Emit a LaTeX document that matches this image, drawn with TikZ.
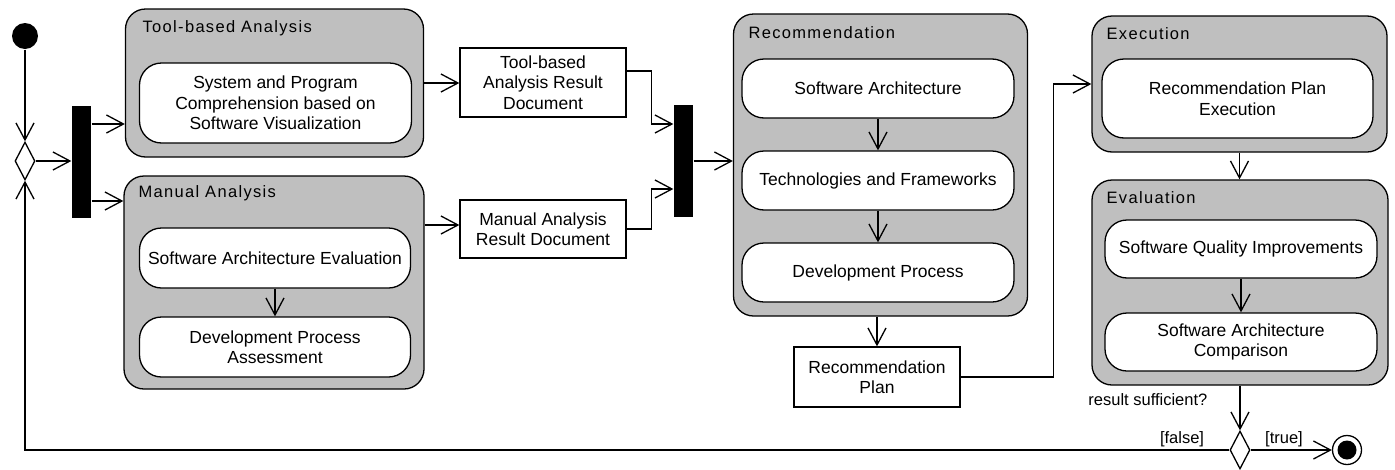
\documentclass[tikz,border=0pt]{standalone}
\usepackage{fontspec}
\setmainfont{Liberation Sans}
\usetikzlibrary{arrows.meta,positioning,shapes.geometric}

\begin{document}
\begin{tikzpicture}[x=1pt,y=-1pt,line width=1.3pt,>={Straight Barb[length=17pt,width=18pt]},
  font=\fontsize{17.5}{20.5}\selectfont,node distance=92pt,on grid,
  group/.style={draw,rounded corners=20pt,fill=black!25,inner sep=0pt},
  grouptitle/.style={anchor=west,inner sep=0pt,font=\fontsize{16.5}{19}\selectfont\addfontfeature{LetterSpace=8}},
  act/.style={draw,rounded corners=22pt,fill=white,align=center,minimum width=272pt,minimum height=59pt,inner sep=0pt},
  doc/.style={draw,fill=white,align=center,minimum width=166pt,inner sep=0pt},
  bar/.style={fill=black,minimum width=19pt,minimum height=112pt,inner sep=0pt},
  choice/.style={draw,fill=white,diamond,minimum width=20pt,minimum height=38pt,inner sep=0pt},
  init/.style={circle,fill=black,minimum size=26pt,inner sep=0pt},
  final/.style={circle,draw,fill=white,minimum size=29pt,inner sep=0pt,
    path picture={\fill[black] (path picture bounding box.center) circle (9.5pt);}},
  guard/.style={inner sep=0pt,font=\fontsize{16.5}{20}\selectfont}]
   \useasboundingbox (0,0) rectangle (1395,469);
   \node[init] (start) at (25,36) {};
   \node[choice] (merge) at (25,161) {};
   \node[bar] (fork) at (81.5,161.5) {};
   \node[group,minimum width=298pt,minimum height=148pt] (tool) at (274.5,83) {};
   \node[grouptitle] (toolt) at (142,28) {Tool-based Analysis};
   \node[act,minimum height=80pt] (comp) at (275.5,103) {System and Program\\Comprehension based on\\Software Visualization};
   \node[group,minimum width=300pt,minimum height=213pt] (manual) at (274,282.5) {};
   \node[grouptitle] (manualt) at (138,193) {Manual Analysis};
   \node[act,minimum width=271pt,minimum height=60pt] (sae) at (275,258) {Software Architecture Evaluation};
   \node[act,minimum width=271pt,minimum height=60pt] (dpa) [below=89pt of sae] {Development Process\\Assessment};
   \node[doc,minimum height=69pt] (tres) at (543,82.5) {Tool-based\\Analysis Result\\Document};
   \node[doc,minimum height=58pt] (mres) at (543,229) {Manual Analysis\\Result Document};
   \node[bar] (join) at (683.5,161) {};
   \node[group,minimum width=294pt,minimum height=302pt] (rec) at (880.5,165) {};
   \node[grouptitle] (rect) at (748,33) {Recommendation};
   \node[act] (arch) at (878,88.5) {Software Architecture};
   \node[act] (tech) [below=of arch] {Technologies and Frameworks};
   \node[act] (proc) [below=of tech] {Development Process};
   \node[doc,minimum height=60pt] (plan) at (877,377) {Recommendation\\Plan};
   \node[group,minimum width=295pt,minimum height=136pt] (exec) at (1239.5,84) {};
   \node[grouptitle] (exect) at (1106,34) {Execution};
   \node[act,minimum width=271pt,minimum height=79pt] (run) at (1237.5,98.5) {Recommendation Plan\\Execution};
   \node[group,minimum width=296pt,minimum height=205pt] (eval) at (1240,282.5) {};
   \node[grouptitle] (evalt) at (1106,198) {Evaluation};
   \node[act,minimum height=58pt] (qual) at (1241,249) {Software Quality Improvements};
   \node[act,minimum height=58pt] (cmp) [below=93pt of qual] {Software Architecture\\Comparison};
   \node[choice] (check) at (1240,450) {};
   \node[final] (stop) at (1347,450) {};
   \node[guard,anchor=east] (ask) at (1208,400) {result sufficient?};
   \node[guard] (no) at (1182,439) {[false]};
   \node[guard] (yes) at (1284,439) {[true]};
   \coordinate (f1) at ([yshift=37.5pt]fork.east);
   \coordinate (f2) at ([yshift=-39.5pt]fork.east);
   \coordinate (m1) at ([yshift=57.5pt]manual.east);
   \coordinate (t1) at ([yshift=11.5pt]tres.east);
   \coordinate (j1) at ([yshift=37pt]join.west);
   \coordinate (j2) at ([yshift=-28pt]join.west);
    \path[->]
    (arch) edge (tech)
    (tech) edge (proc)
    (sae) edge (dpa)
    (qual) edge (cmp);
   \draw[->] (start) -- (merge.north);
   \draw[->] (merge.east) -- (merge.east -| fork.west);
   \draw[->] (f1) -- (f1 -| tool.west);
   \draw[->] (f2) -- (f2 -| manual.west);
   \draw[->] (tool.east) -- (tool.east -| tres.west);
   \draw[->] (m1) -- (m1 -| mres.west);
   \draw[->] (t1) -- ++(25pt,0) |- (j1);
   \draw[->] (mres.east) -- ++(25pt,0) |- (j2);
   \draw[->] (join.east) -- (join.east -| rec.west);
   \draw[->] (plan.north |- rec.south) -- (plan.north);
   \draw[->] (plan.east) -- ++(93pt,0) |- (exec.west);
   \draw[->] (exec.south) -- (exec.south |- eval.north);
   \draw[->] (eval.south -| check) -- (check.north);
   \draw[->] (check.east) -- (stop.west);
   \draw[->] (check.west) -| (merge.south);
\end{tikzpicture}
\end{document}
